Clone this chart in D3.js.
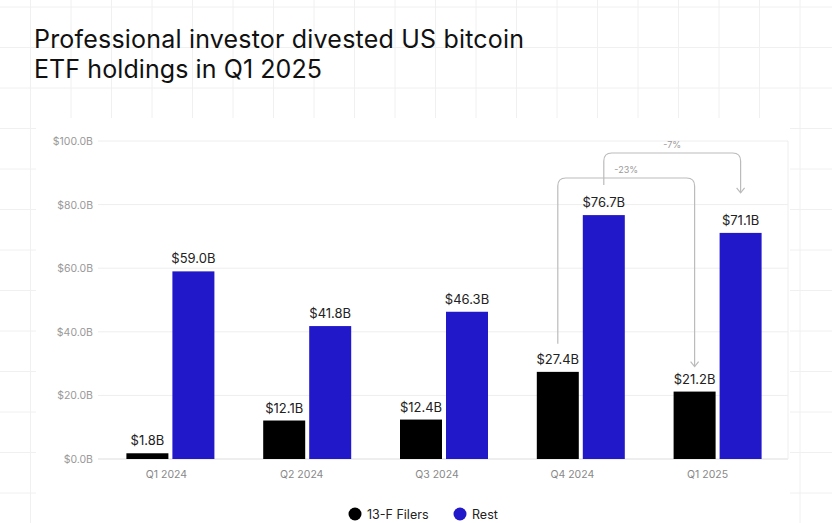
<!DOCTYPE html><html><head><meta charset="utf-8"><script src="https://cdn.jsdelivr.net/npm/d3@7"></script>
<style>body{margin:0;background:#fff}svg{font-family:Inter,"Noto Sans",sans-serif}</style></head><body><svg id="c" width="832" height="523"></svg><script>
const categories=["Q1 2024","Q2 2024","Q3 2024","Q4 2024","Q1 2025"];
const filers=[1.8,12.1,12.4,27.4,21.2];
const rest=[59.0,41.8,46.3,76.7,71.1];
const yTicks=[0,20,40,60,80,100];
const svg=d3.select("#c");
const bg=svg.append("g");
for(let x=-10;x<832;x+=40.5)bg.append("line").attr("x1",x).attr("x2",x).attr("y1",0).attr("y2",523).attr("stroke","#f0f0f0");
for(let y=7;y<523;y+=40.5)bg.append("line").attr("y1",y).attr("y2",y).attr("x1",0).attr("x2",832).attr("stroke","#f0f0f0");
svg.append("rect").attr("x",36).attr("y",118).attr("width",754).attr("height",405).attr("fill","#fff");
svg.append("text").attr("x",34).attr("y",48).attr("font-size",25).attr("fill","#111").attr("textLength",490).text("Professional investor divested US bitcoin");
svg.append("text").attr("x",34).attr("y",78).attr("font-size",25).attr("fill","#111").attr("textLength",288).text("ETF holdings in Q1 2025");
const y=d3.scaleLinear().domain([0,100]).range([459,141]);
const x=d3.scaleBand().domain(categories).range([102,786]);
const g=svg.append("g");
yTicks.forEach(t=>{g.append("line").attr("x1",98).attr("x2",788).attr("y1",y(t)).attr("y2",y(t)).attr("stroke",t?"#eee":"#ddd");
 g.append("text").attr("x",93).attr("y",y(t)+4).attr("text-anchor","end").attr("font-size",10.5).attr("fill","#999").text("$"+t.toFixed(1)+"B");});
g.append("line").attr("x1",788).attr("x2",788).attr("y1",141).attr("y2",459).attr("stroke","#eee");
const bw=42;
categories.forEach((c,i)=>{const cx=x(c)+x.bandwidth()/2;
 [[filers[i],"#000",cx-bw-2],[rest[i],"#2118c9",cx+2]].forEach(([v,col,bx])=>{
  g.append("rect").attr("x",bx).attr("y",y(v)).attr("width",bw).attr("height",y(0)-y(v)).attr("fill",col);
  g.append("text").attr("x",bx+bw/2).attr("y",y(v)-8).attr("text-anchor","middle").attr("font-size",13).attr("fill","#222").text("$"+v.toFixed(1)+"B");});
 g.append("text").attr("x",cx-4-i*1.5).attr("y",478).attr("text-anchor","middle").attr("font-size",10.5).attr("fill","#888").text(c);
});
function bracket(x1,y1,top,x2,y2,label){const r=8;
 g.append("path").attr("d",`M${x1},${y1}V${top+r}Q${x1},${top} ${x1+r},${top}H${x2-r}Q${x2},${top} ${x2},${top+r}V${y2}`).attr("fill","none").attr("stroke","#bbb").attr("stroke-width",1.2);
 g.append("path").attr("d",`M${x2-4},${y2-5}L${x2},${y2}L${x2+4},${y2-5}`).attr("fill","none").attr("stroke","#bbb").attr("stroke-width",1.2);
 g.append("text").attr("x",(x1+x2)/2).attr("y",top-5).attr("text-anchor","middle").attr("font-size",9).attr("fill","#999").text(label);}
const c3=x(categories[3])+x.bandwidth()/2, c4=x(categories[4])+x.bandwidth()/2;
bracket(c3-bw/2-2,y(filers[3])-28,178,c4-bw/2-2,y(filers[4])-25,"-23%");
bracket(c3+bw/2+2,y(rest[3])-30,153,c4+bw/2+2,y(rest[4])-40,"-7%");
const lg=svg.append("g");
[["13-F Filers","#000",355],["Rest","#2118c9",460]].forEach(([t,col,lx])=>{
 lg.append("circle").attr("cx",lx).attr("cy",514).attr("r",6.5).attr("fill",col);
 lg.append("text").attr("x",lx+12).attr("y",518.5).attr("font-size",12.5).attr("fill","#222").text(t);});
</script></body></html>
